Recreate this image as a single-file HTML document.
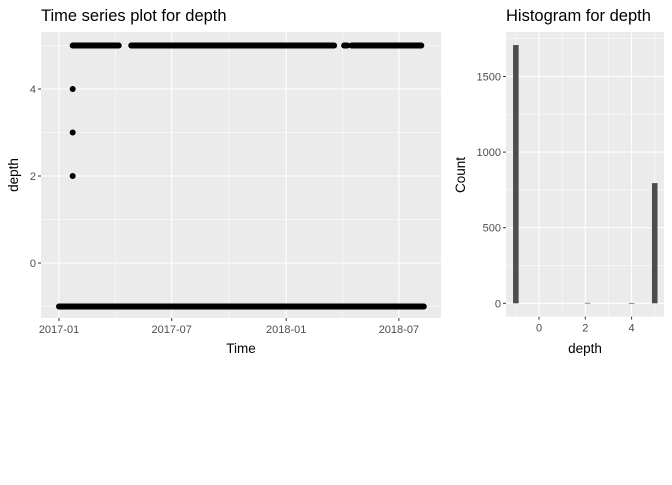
<!DOCTYPE html>
<html><head><meta charset="utf-8"><style>
body{margin:0;background:#fff;}
svg text{font-family:"Liberation Sans",Arial,sans-serif;}
</style></head><body>
<svg id="c" width="672" height="480" xmlns="http://www.w3.org/2000/svg"></svg>
<script>
// ---- Time series data (runs of daily observations, in days since 2017-01-01) ----
const lowRunStart = [0];
const lowRunEnd = [586];
const lowValue = -1;
const highRunStart = [22, 116, 458, 470];
const highRunEnd = [96, 442, 463, 582];
const highValue = 5;
const singleDays = [22, 22, 22];
const singleValues = [2, 3, 4];
const yTicks = [0, 2, 4];
const xTickDays = [0, 181, 365, 546];
const xTickLabels = ["2017-01", "2017-07", "2018-01", "2018-07"];
// ---- Histogram data ----
const histCenters = [-1, 2.1, 4, 5];
const histCounts = [1708, 3, 1, 795];
const histYTicks = [0, 500, 1000, 1500];
const histXTicks = [0, 2, 4];

const NS = "http://www.w3.org/2000/svg";
const svg = document.getElementById("c");
function mk(tag, attrs, parent) {
  const e = document.createElementNS(NS, tag);
  for (const k in attrs) e.setAttribute(k, attrs[k]);
  (parent || svg).appendChild(e);
  return e;
}
function txt(s, attrs, parent) { const t = mk("text", attrs, parent); t.textContent = s; return t; }

// ---------- Left panel ----------
const L = {x0: 41, x1: 441, y0: 32, y1: 318};
const xs = d => 59 + d * 0.6225;
const ys = v => 263 - v * 43.5;
const bg = mk("rect", {x: L.x0, y: L.y0, width: L.x1 - L.x0, height: L.y1 - L.y0, fill: "#ebebeb"});


[-1, 1, 3, 5].forEach(v => mk("line", {x1: L.x0, x2: L.x1, y1: ys(v), y2: ys(v), stroke: "#fff", "stroke-width": 0.5}));
for (let i = 0; i < xTickDays.length - 1; i++) { const m = (xs(xTickDays[i]) + xs(xTickDays[i + 1])) / 2; mk("line", {x1: m, x2: m, y1: L.y0, y2: L.y1, stroke: "#fff", "stroke-width": 0.5}); }
yTicks.forEach(v => {
  mk("line", {x1: L.x0, x2: L.x1, y1: ys(v), y2: ys(v), stroke: "#fff", "stroke-width": 1.1});
  mk("line", {x1: L.x0 - 3, x2: L.x0, y1: ys(v), y2: ys(v), stroke: "#333", "stroke-width": 1});
  const t = txt(String(v), {x: L.x0 - 5, y: ys(v) + 4, "font-size": 11, fill: "#4d4d4d", "text-anchor": "end"});
  
  
});
xTickDays.forEach((d, i) => {
  mk("line", {x1: xs(d), x2: xs(d), y1: L.y0, y2: L.y1, stroke: "#fff", "stroke-width": 1.1});
  mk("line", {x1: xs(d), x2: xs(d), y1: L.y1, y2: L.y1 + 3, stroke: "#333", "stroke-width": 1});
  const t = txt(xTickLabels[i], {x: xs(d), y: L.y1 + 15, "font-size": 11, fill: "#4d4d4d", "text-anchor": "middle"});
  
  
});
const pts = mk("g", {fill: "#000"});


function run(starts, ends, v) {
  for (let r = 0; r < starts.length; r++)
    for (let d = starts[r]; d <= ends[r]; d++) mk("circle", {cx: xs(d), cy: ys(v), r: 3}, pts);
}
run(lowRunStart, lowRunEnd, lowValue);
run(highRunStart, highRunEnd, highValue);
singleDays.forEach((d, i) => mk("circle", {cx: xs(d), cy: ys(singleValues[i]), r: 3}, pts));
let t;
t = txt("Time series plot for depth", {x: 41, y: 21, "font-size": 16.5, fill: "#000"});
 
t = txt("Time", {x: 241, y: 353, "font-size": 13.5, fill: "#000", "text-anchor": "middle"});
 
t = txt("depth", {x: 0, y: 0, "font-size": 13.5, fill: "#000", "text-anchor": "middle", transform: "translate(18,175) rotate(-90)"});
 

// ---------- Histogram ----------
const H = {x0: 506, x1: 664, y0: 32, y1: 316.6};
const hx = v => 539 + v * 23.15;
const hy = c => 303.3 - c * 0.1512;
const hbg = mk("rect", {x: H.x0, y: H.y0, width: H.x1 - H.x0, height: H.y1 - H.y0, fill: "#ebebeb"});


[250, 750, 1250, 1750].forEach(c => mk("line", {x1: H.x0, x2: H.x1, y1: hy(c), y2: hy(c), stroke: "#fff", "stroke-width": 0.5}));
[-1, 1, 3, 5].forEach(v => mk("line", {x1: hx(v), x2: hx(v), y1: H.y0, y2: H.y1, stroke: "#fff", "stroke-width": 0.5}));
histYTicks.forEach(c => {
  mk("line", {x1: H.x0, x2: H.x1, y1: hy(c), y2: hy(c), stroke: "#fff", "stroke-width": 1.1});
  mk("line", {x1: H.x0 - 3, x2: H.x0, y1: hy(c), y2: hy(c), stroke: "#333", "stroke-width": 1});
  const tt = txt(String(c), {x: H.x0 - 5, y: hy(c) + 4, "font-size": 11, fill: "#4d4d4d", "text-anchor": "end"});
   
});
histXTicks.forEach(v => {
  mk("line", {x1: hx(v), x2: hx(v), y1: H.y0, y2: H.y1, stroke: "#fff", "stroke-width": 1.1});
  mk("line", {x1: hx(v), x2: hx(v), y1: H.y1, y2: H.y1 + 3, stroke: "#333", "stroke-width": 1});
  const tt = txt(String(v), {x: hx(v), y: H.y1 + 15, "font-size": 11, fill: "#4d4d4d", "text-anchor": "middle"});
   
});
const bw = 0.24;
histCenters.forEach((v, i) => {
  const b = mk("rect", {x: hx(v - bw / 2), y: hy(histCounts[i]), width: bw * 23.15, height: Math.max(hy(0) - hy(histCounts[i]), 0.6), fill: "#4d4d4d"});
  
  
});
t = txt("Histogram for depth", {x: 506, y: 21, "font-size": 16.5, fill: "#000"});
 
t = txt("depth", {x: 585, y: 353, "font-size": 13.5, fill: "#000", "text-anchor": "middle"});
 
t = txt("Count", {x: 0, y: 0, "font-size": 13.5, fill: "#000", "text-anchor": "middle", transform: "translate(465,175) rotate(-90)"});
 
</script>
</body></html>
